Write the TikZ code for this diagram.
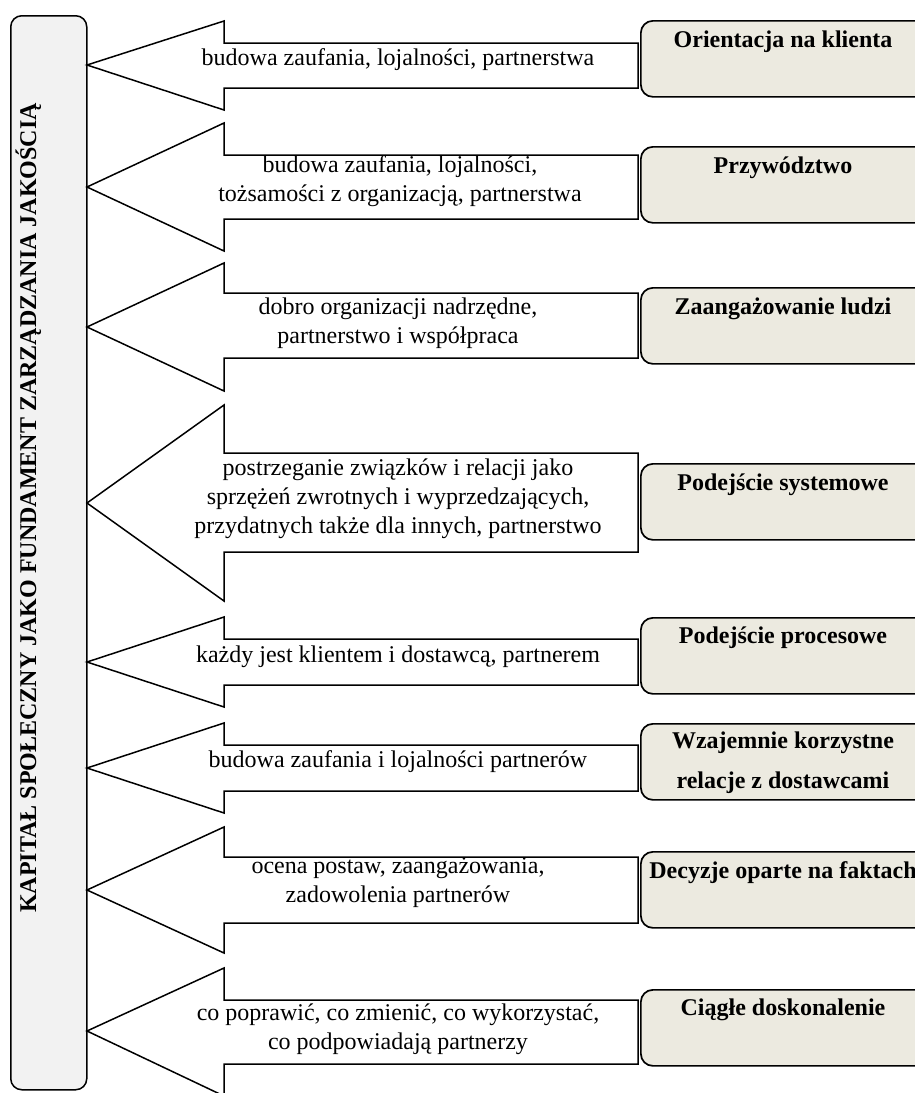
\documentclass[tikz,border=0pt]{standalone}
\usepackage{fontspec}
\setmainfont{Liberation Serif}
\definecolor{leftgray}{RGB}{242,242,242}
\definecolor{beige}{RGB}{236,234,224}
\newcommand\blockarr[6]{%
  \draw[arr] (87,#2) coordinate (#1) -- (224,#3) -- (224,#4) -- (638,#4) -- (638,#5) -- (224,#5) -- (224,#6) -- cycle;}
\begin{document}
\begin{tikzpicture}[x=1pt,y=-1pt,
  arr/.style={draw=black, fill=white, line width=1.5pt, line join=miter},
  sidebox/.style={draw, fill=leftgray, rounded corners=11pt, line width=1.5pt, anchor=north west, inner sep=0pt},
  tbox/.style={draw, fill=beige, rounded corners=12pt, line width=1.7pt, minimum width=290pt, minimum height=76pt, anchor=north west, inner sep=0pt},
  atext/.style={font=\fontsize{24}{29}\selectfont, align=center, inner sep=0pt},
  btext/.style={font=\bfseries\fontsize{24}{29}\selectfont, align=center, inner sep=0pt}]
\useasboundingbox (0,0) rectangle (915,1093);
\clip (0,0) rectangle (915,1093);
% left box
\node[sidebox, minimum width=76pt, minimum height=1074pt] (main) at (10,15) {};
\node[btext, rotate=90, anchor=base] (maintext) at (36,508) {KAPITAŁ SPOŁECZNY JAKO FUNDAMENT ZARZĄDZANIA JAKOŚCIĄ};
% arrows
\blockarr{t1}{65}{21}{43}{88}{110}
\blockarr{t2}{187}{123}{155}{219}{251}
\blockarr{t3}{327}{263}{293}{358}{391}
\blockarr{t4}{503}{405}{453}{552}{601}
\blockarr{t5}{662}{617}{639}{685}{707}
\blockarr{t6}{768}{723}{745}{791}{813}
\blockarr{t7}{890}{827}{857}{923}{953}
\blockarr{t8}{1031}{968}{1000}{1064}{1096}
% arrow texts
\node[atext] (a1) at (398,60) {budowa zaufania, lojalności, partnerstwa};
\node[atext] (a2) at (400,181) {budowa zaufania, lojalności,\\tożsamości z organizacją, partnerstwa};
\node[atext] (a3) at (398,323) {dobro organizacji nadrzędne,\\partnerstwo i współpraca};
\node[atext] (a4) at (398,499) {postrzeganie związków i relacji jako\\sprzężeń zwrotnych i wyprzedzających,\\przydatnych także dla innych, partnerstwo};
\node[atext] (a5) at (398,657) {każdy jest klientem i dostawcą, partnerem};
\node[atext] (a6) at (398,762) {budowa zaufania i lojalności partnerów};
\node[atext] (a7) at (398,883) {ocena postaw, zaangażowania,\\zadowolenia partnerów};
\node[atext] (a8) at (398,1029) {co poprawić, co zmienić, co wykorzystać,\\co podpowiadają partnerzy};
% right boxes
\node[tbox] (b1) at (640,20) {};
\node[tbox] (b2) at (640,146) {};
\node[tbox] (b3) at (640,287) {};
\node[tbox] (b4) at (640,463) {};
\node[tbox] (b5) at (640,617) {};
\node[tbox] (b6) at (640,723) {};
\node[tbox] (b7) at (640,851) {};
\node[tbox] (b8) at (640,989) {};
\node[btext] (l1) at (783,42) {Orientacja na klienta};
\node[btext] (l2) at (783,168) {Przywództwo};
\node[btext] (l3) at (783,309) {Zaangażowanie ludzi};
\node[btext] (l4) at (783,485) {Podejście systemowe};
\node[btext] (l5) at (783,638) {Podejście procesowe};
\node[btext] (l6) at (783,763) {Wzajemnie korzystne\\[11pt]relacje z dostawcami};
\node[btext] (l7) at (783,873) {Decyzje oparte na faktach};
\node[btext] (l8) at (783,1010) {Ciągłe doskonalenie};
\end{tikzpicture}
\end{document}
